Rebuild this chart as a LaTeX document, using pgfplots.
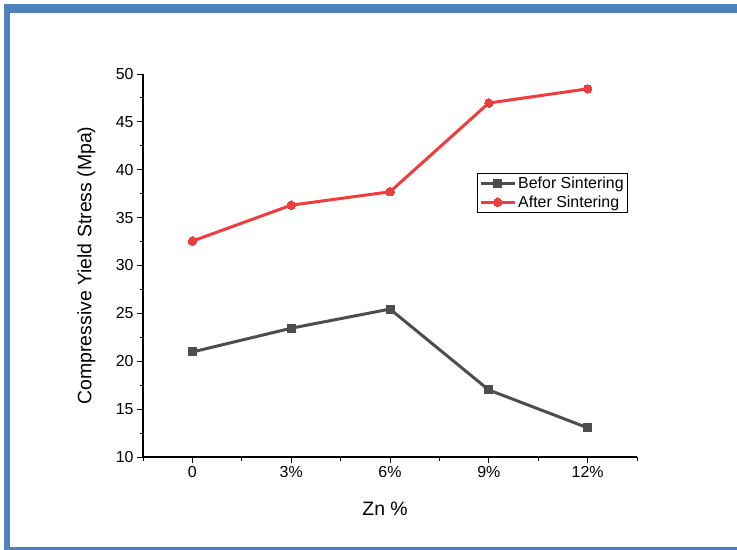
\documentclass[border=0pt]{standalone}
\usepackage{fontspec}
\setmainfont{Liberation Sans}
\usepackage{pgfplots}
\pgfplotsset{compat=1.18}
\definecolor{framebl}{RGB}{79,129,189}
\definecolor{darkser}{RGB}{77,77,77}
\definecolor{redser}{RGB}{240,60,60}
\begin{document}
\begin{tikzpicture}[x=1bp,y=1bp]
% page bounds and frame
\path[fill=white] (0,0) rectangle (737,-550);
\fill[framebl] (4,-4) rectangle (737,-13);
\fill[framebl] (4,-4) rectangle (10,-548);
\fill[framebl] (4,-547) rectangle (737,-550);
\begin{axis}[
  at={(143bp,-457bp)}, anchor=south west,
  scale only axis, width=494bp, height=383bp,
  xmin=-0.5, xmax=4.5, ymin=10, ymax=50,
  axis x line*=bottom, axis y line*=left,
  axis line style={line width=1.1pt, black},
  xtick={0,1,2,3,4}, xticklabels={0,3\%,6\%,9\%,12\%},
  minor xtick={-0.5,0.5,1.5,2.5,3.5,4.5},
  ytick={10,15,...,50}, minor ytick={12.5,17.5,...,47.5},
  tick align=outside, tick pos=left,
  major tick length=6bp, minor tick length=3.5bp,
  every tick/.style={black, line width=1pt},
  /pgf/number format/assume math mode=true,
  tick label style={font=\fontsize{16}{18}\selectfont, black},
  xlabel={Zn \%}, ylabel={Compressive Yield Stress (Mpa)},
  label style={font=\fontsize{19.5}{22}\selectfont},
  xlabel style={at={(axis description cs:0.49,0)}, anchor=north, yshift=-41bp},
  ylabel style={at={(axis description cs:0,0.5)}, anchor=south, yshift=44bp},
  clip=false,
  legend style={at={(axis description cs:0.676,0.742)}, anchor=north west, draw=black, line width=0.6pt,
    font=\fontsize{16}{17}\selectfont, inner sep=2pt, row sep=1.5pt,
    cells={anchor=west}},
  legend cell align=left,
  legend image code/.code={
    \draw[#1, line width=3pt, mark repeat=2, mark phase=2] plot coordinates {(0bp,0bp) (17bp,0bp) (34bp,0bp)};},
]
\addplot[darkser, line width=3pt, mark=square*, mark size=4bp, mark options={line width=0pt}]
  coordinates {(0,20.97) (1,23.45) (2,25.45) (3,17.0) (4,13.05)};
\addlegendentry{Befor Sintering}
\addplot[redser, line width=3pt, mark=*, mark size=4.2bp, mark options={line width=0pt}]
  coordinates {(0,32.55) (1,36.3) (2,37.7) (3,46.97) (4,48.45)};
\addlegendentry{After Sintering}
\end{axis}
\end{tikzpicture}
\end{document}
